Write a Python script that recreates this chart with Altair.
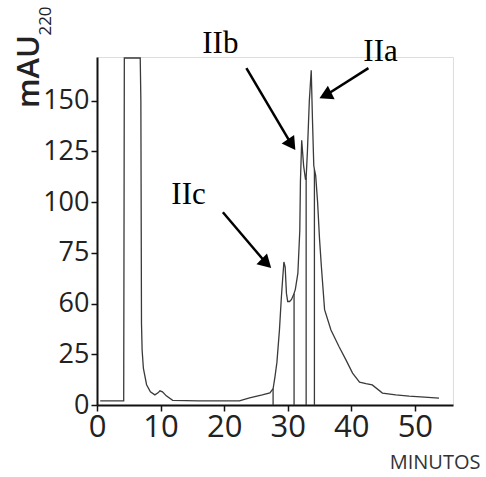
import math
import altair as alt
import pandas as pd

# ---- chromatogram trace ----
time_min = [0.5, 4.2, 4.3, 6.8, 6.9, 7.0, 7.1, 7.3, 7.8, 8.4, 9.1, 9.6, 9.9, 10.3, 10.9, 11.9,
            16.0, 22.4, 24.0, 26.0, 27.2, 27.7, 28.0, 28.3, 28.7, 29.0, 29.2, 29.4, 29.6, 29.8,
            30.0, 30.3, 30.6, 31.0, 31.2, 31.6, 31.9, 32.0, 32.2, 32.5, 32.8, 32.9, 33.1, 33.4,
            33.7, 33.9, 34.1, 34.2, 34.4, 34.7, 35.0, 35.3, 35.8, 36.8, 38.1, 39.2, 40.2, 41.3,
            42.3, 43.3, 44.9, 47.0, 49.1, 51.5, 53.8]
mau = [2.0, 2.0, 171, 171, 150, 40, 27, 18, 10, 6.5, 5.0, 6.0, 7.0, 6.5, 4.5, 2.3,
       2.0, 2.0, 3.5, 5.0, 6.0, 8.0, 14, 21, 37, 53, 62, 70.5, 68, 55,
       51, 51, 52, 55, 57, 65, 86, 110, 130.5, 118, 111, 112, 125, 150,
       165, 140, 118, 116, 113, 100, 82, 68, 47, 37, 28.6, 22, 15.7, 11.3,
       10.5, 9.9, 5.9, 5.0, 4.4, 3.9, 3.4]

# fraction cut lines
fraction_time = [27.7, 31.0, 32.9, 34.2]
fraction_top = [8, 55, 112, 116]

# axes
x_ticks = [0, 10, 20, 30, 40, 50]
y_ticks = [0, 25, 50, 75, 100, 125, 150]
y_tick_labels = ["0", "25", "60", "75", "100", "125", "150"]

# peak annotations
peak_labels = ["IIa", "IIb", "IIc"]
label_x = [44.6, 19.4, 14.4]
label_y = [174, 177.9, 103.7]
arrow_x0 = [42.7, 23.5, 19.8]
arrow_y0 = [166, 166, 95]
arrow_x1 = [35.0, 31.2, 27.4]
arrow_y1 = [154, 131, 72]

X_MAX = 56
Y_MAX = 171.5
W, H = 356, 348
PX_X = W / X_MAX
PX_Y = H / Y_MAX
HEAD_SIZE = 230
HEAD_H = math.sqrt(HEAD_SIZE) / 2 * math.sqrt(3) / 2

xs = alt.Scale(domain=[0, X_MAX], nice=False, zero=False)
ys = alt.Scale(domain=[0, Y_MAX], nice=False)

trace = pd.DataFrame({"t": time_min, "v": mau})
fr = pd.DataFrame({"t": fraction_time, "top": fraction_top, "base": [0] * len(fraction_time)})

rows = []
for lab, lx, ly, x0, y0, x1, y1 in zip(peak_labels, label_x, label_y, arrow_x0, arrow_y0, arrow_x1, arrow_y1):
    dxp = (x1 - x0) * PX_X
    dyp = -(y1 - y0) * PX_Y
    ang = math.degrees(math.atan2(dxp, -dyp)) % 360
    s, c = math.sin(math.radians(ang)), math.cos(math.radians(ang))
    cx = x1 - HEAD_H * s / PX_X
    cy = y1 + HEAD_H * c / PX_Y
    rows.append({"lab": lab, "lx": lx, "ly": ly, "x0": x0, "y0": y0, "cx": cx, "cy": cy, "ang": ang})
ann = pd.DataFrame(rows)

x_axis = alt.Axis(values=x_ticks, title="MINUTOS", titleX=383, titleY=63, titleAlign="right",
                  titleBaseline="alphabetic", titleFont="Open Sans", titleFontSize=20,
                  titleFontWeight="normal", titleColor="#333", labelFont="Open Sans",
                  labelFontSize=31, labelColor="#222", labelPadding=1, tickSize=6,
                  tickWidth=1.5, tickColor="#111", domainColor="#111", domainWidth=2,
                  grid=False, labelFlush=False)

label_expr = "[" + ",".join("'" + s + "'" for s in y_tick_labels) + "][indexof([" + \
    ",".join(str(v) for v in y_ticks) + "], datum.value)]"

y_axis = alt.Axis(values=y_ticks, labelExpr=label_expr, title="mAU", titleAngle=270,
                  titleX=-59, titleY=14, titleAlign="center", titleBaseline="alphabetic",
                  titleFont="Open Sans", titleFontSize=31, titleFontWeight=600,
                  titleColor="#222", labelFont="Open Sans", labelFontSize=27,
                  labelColor="#222", labelPadding=2, tickSize=6, tickWidth=1.5,
                  tickColor="#111", domainColor="#111", domainWidth=2, grid=False)

line = alt.Chart(trace).mark_line(color="#3a3a3a", strokeWidth=1.3, clip=True).encode(
    x=alt.X("t:Q", scale=xs, axis=x_axis),
    y=alt.Y("v:Q", scale=ys, axis=y_axis),
    order="t:Q",
)

rules = alt.Chart(fr).mark_rule(color="#3a3a3a", strokeWidth=1.3).encode(
    x="t:Q", y="base:Q", y2="top:Q"
)

shafts = alt.Chart(ann).mark_rule(color="black", strokeWidth=2.5).encode(
    x="x0:Q", y="y0:Q", x2="cx:Q", y2="cy:Q"
)

heads = alt.Chart(ann).mark_point(shape="triangle-up", filled=True, color="black",
                                  size=HEAD_SIZE, opacity=1).encode(
    x="cx:Q", y="cy:Q", angle=alt.Angle("ang:Q", scale=None)
)

labels = alt.Chart(ann).mark_text(font="Liberation Serif", fontSize=31, color="black",
                                  align="center", baseline="middle").encode(
    x="lx:Q", y="ly:Q", text="lab:N"
)

sub = alt.Chart(pd.DataFrame({"s": ["220"]})).mark_text(
    font="Open Sans", fontSize=17, color="#222", angle=270, align="center",
    baseline="alphabetic").encode(text="s:N", x=alt.value(-46), y=alt.value(-36))

chart = alt.layer(line, rules, shafts, heads, labels, sub).properties(
    width=W, height=H,
    autosize=alt.AutoSizeParams(type="none"),
    padding={"left": 97, "top": 57, "right": 33, "bottom": 72},
).configure_view(stroke=None).configure(background="white")

chart.save("out.html", embed_options={"renderer": "svg", "actions": False})
